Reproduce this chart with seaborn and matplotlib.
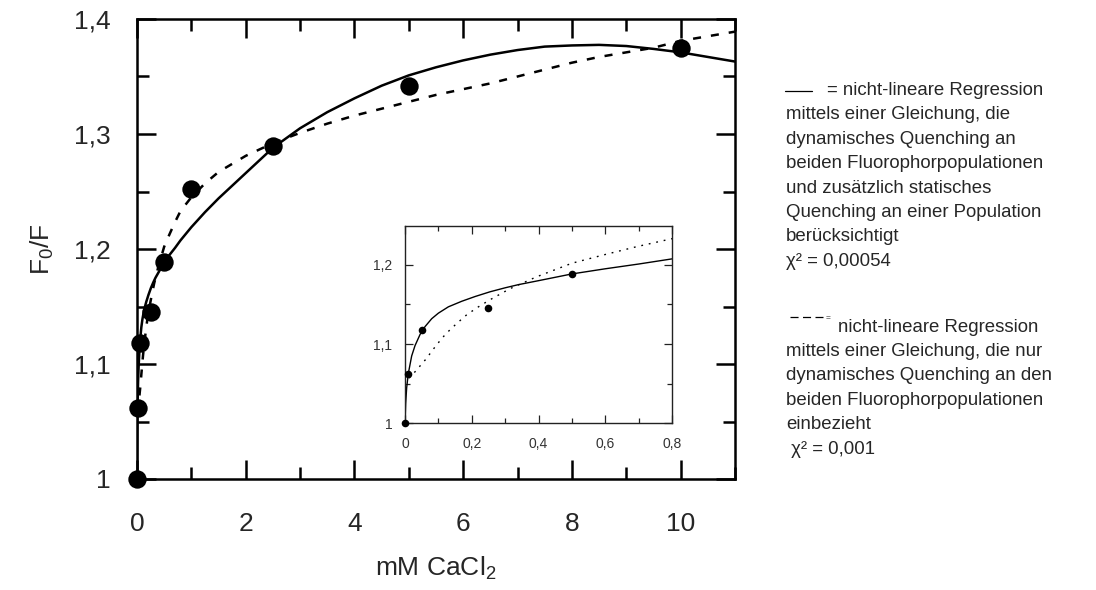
import numpy as np
import pandas as pd
import seaborn as sns
import matplotlib.pyplot as plt
from matplotlib.lines import Line2D
from matplotlib.ticker import FixedLocator, FixedFormatter, MultipleLocator

# Messpunkte (mM CaCl2, F0/F)
conc = [0, 0.01, 0.05, 0.25, 0.5, 1, 2.5, 5, 10]
f0f = [1.0, 1.062, 1.118, 1.145, 1.189, 1.252, 1.29, 1.342, 1.375]

# Kurve: dynamisch + statisch (durchgezogen)
fit1_x = [0, 0.002, 0.005, 0.01, 0.02, 0.03, 0.045, 0.06, 0.08, 0.1, 0.13, 0.17,
          0.21, 0.255, 0.3, 0.34, 0.4, 0.5, 0.6, 0.7, 0.8,
          1.0, 1.25, 1.5, 2.0, 2.5, 3.0, 3.5, 4.0, 4.5, 5.0, 5.5, 6.0, 6.5,
          7.0, 7.5, 8.0, 8.5, 9.0, 9.5, 10.0, 10.5, 11.0]
fit1_y = [1.0, 1.025, 1.045, 1.063, 1.085, 1.098, 1.112, 1.122, 1.132, 1.139, 1.147, 1.154,
          1.160, 1.166, 1.171, 1.175, 1.180, 1.1885, 1.195, 1.201, 1.2075,
          1.219, 1.232, 1.244, 1.266, 1.288, 1.305, 1.319, 1.331, 1.342, 1.351, 1.358, 1.364, 1.369,
          1.373, 1.376, 1.377, 1.3775, 1.3765, 1.374, 1.371, 1.367, 1.363]

# Kurve: nur dynamisch (gestrichelt)
fit2_x = [0.0125, 0.02, 0.035, 0.05, 0.065, 0.08, 0.095, 0.11, 0.125, 0.155, 0.185,
          0.22, 0.255, 0.315, 0.395, 0.5, 0.595, 0.695, 0.8,
          1.0, 1.25, 1.5, 2.0, 2.5, 3.0, 3.5, 4.0, 4.5, 5.0, 5.5, 6.0, 6.5,
          7.0, 7.5, 8.0, 8.5, 9.0, 9.5, 10.0, 10.5, 11.0]
fit2_y = [1.057, 1.061, 1.067, 1.075, 1.082, 1.091, 1.099, 1.107, 1.114, 1.126, 1.137,
          1.147, 1.156, 1.170, 1.185, 1.202, 1.2125, 1.223, 1.233,
          1.245, 1.257, 1.267, 1.281, 1.292, 1.301, 1.309, 1.316, 1.322, 1.328, 1.334, 1.339, 1.344,
          1.350, 1.356, 1.362, 1.367, 1.371, 1.375, 1.381, 1.385, 1.389]

xticks_main = [0, 2, 4, 6, 8, 10]
xlabels_main = ["0", "2", "4", "6", "8", "10"]
yticks_main = [1.0, 1.1, 1.2, 1.3, 1.4]
ylabels_main = ["1", "1,1", "1,2", "1,3", "1,4"]

xticks_ins = [0, 0.2, 0.4, 0.6, 0.8]
xlabels_ins = ["0", "0,2", "0,4", "0,6", "0,8"]
yticks_ins = [1.0, 1.1, 1.2]
ylabels_ins = ["1", "1,1", "1,2"]

text1 = ["mittels einer Gleichung, die",
         "dynamisches Quenching an",
         "beiden Fluorophorpopulationen",
         "und zusätzlich statisches",
         "Quenching an einer Population",
         "berücksichtigt",
         "χ² = 0,00054"]
text2 = ["mittels einer Gleichung, die nur",
         "dynamisches Quenching an den",
         "beiden Fluorophorpopulationen",
         "einbezieht",
         " χ² = 0,001"]

sns.set_style("ticks")
plt.rcParams['font.family'] = ['Liberation Sans', 'DejaVu Sans']
plt.rcParams['mathtext.default'] = 'regular'
plt.rcParams['lines.scale_dashes'] = False

W, H = 1096, 590
fig = plt.figure(figsize=(W / 100, H / 100), dpi=100)
fig.patch.set_facecolor("white")

punkte = pd.DataFrame({"x": conc, "y": f0f})
fit1 = pd.DataFrame({"x": fit1_x, "y": fit1_y})
fit2 = pd.DataFrame({"x": fit2_x, "y": fit2_y})

# Hauptdiagramm
ax = fig.add_axes([137 / W, 1 - 479 / H, 598 / W, 460 / H])
sns.lineplot(data=fit1, x="x", y="y", ax=ax, color="black", lw=1.8, sort=False,
             estimator=None)
sns.lineplot(data=fit2, x="x", y="y", ax=ax, color="black", lw=1.8, sort=False,
             estimator=None, linestyle=(0, (5.8, 7.2)))
sns.scatterplot(data=punkte, x="x", y="y", ax=ax, color="black", s=175,
                edgecolor="black", linewidth=0, zorder=5, clip_on=False)
ax.set_xlim(0, 11)
ax.set_ylim(1.0, 1.4)
ax.xaxis.set_major_locator(FixedLocator(xticks_main))
ax.xaxis.set_major_formatter(FixedFormatter(xlabels_main))
ax.xaxis.set_minor_locator(MultipleLocator(1))
ax.yaxis.set_major_locator(FixedLocator(yticks_main))
ax.yaxis.set_major_formatter(FixedFormatter(ylabels_main))
ax.yaxis.set_minor_locator(MultipleLocator(0.05))
ax.tick_params(which="both", direction="in", top=True, right=True, width=1.8,
               color="black", labelsize=19)
ax.tick_params(which="major", length=13.7)
ax.tick_params(which="minor", length=8.6)
ax.tick_params(axis="x", pad=24)
ax.tick_params(axis="y", pad=19)
for sp in ax.spines.values():
    sp.set_linewidth(1.8)
    sp.set_color("black")
ax.set_xlabel("mM CaCl$_2$", fontsize=19)
ax.set_ylabel("F$_0$/F", fontsize=19)
ax.xaxis.set_label_coords(0.5, -0.165)
ax.yaxis.set_label_coords(-0.135, 0.5)

# Ausschnitt
ins = fig.add_axes([405 / W, 1 - 423.3 / H, 267 / W, 197.3 / H])
sns.lineplot(data=fit1[fit1["x"] <= 0.8], x="x", y="y", ax=ins, color="black",
             lw=1.0, sort=False, estimator=None)
sns.lineplot(data=fit2[fit2["x"] <= 0.8], x="x", y="y", ax=ins, color="black",
             lw=1.0, sort=False, estimator=None, linestyle=(0, (1.3, 4.2)))
sns.scatterplot(data=punkte[punkte["x"] <= 0.8], x="x", y="y", ax=ins,
                color="black", s=30, linewidth=0, zorder=5, clip_on=False)
ins.set_xlim(0, 0.8)
ins.set_ylim(1.0, 1.249)
ins.xaxis.set_major_locator(FixedLocator(xticks_ins))
ins.xaxis.set_major_formatter(FixedFormatter(xlabels_ins))
ins.xaxis.set_minor_locator(MultipleLocator(0.1))
ins.yaxis.set_major_locator(FixedLocator(yticks_ins))
ins.yaxis.set_major_formatter(FixedFormatter(ylabels_ins))
ins.yaxis.set_minor_locator(MultipleLocator(0.05))
ins.tick_params(which="both", direction="in", top=True, right=True, width=0.9,
                color="#222222", labelsize=10, labelcolor="#333333")
ins.tick_params(which="major", length=5.8)
ins.tick_params(which="minor", length=3.6)
ins.tick_params(axis="x", pad=10)
ins.tick_params(axis="y", pad=9)
for sp in ins.spines.values():
    sp.set_linewidth(1.0)
    sp.set_color("#222222")
ins.set_xlabel("")
ins.set_ylabel("")

# Erläuterungstext rechts
tx = 786 / W
fs = 13.4
step = 24.4
fig.add_artist(Line2D([785 / W, 812 / W], [1 - 91 / H, 1 - 91 / H],
                      color="black", lw=0.9))
fig.text(827 / W, 1 - 95 / H, "= nicht-lineare Regression", fontsize=fs,
         va="baseline", ha="left")
for i, line in enumerate(text1):
    fig.text(tx, 1 - (95 + step * (i + 1)) / H, line, fontsize=fs,
             va="baseline", ha="left")

fig.add_artist(Line2D([790 / W, 823 / W], [1 - 316.5 / H, 1 - 316.5 / H],
                      color="black", lw=0.9, linestyle=(0, (5.8, 3.2))))
fig.text(826 / W, 1 - 320 / H, "=", fontsize=6, va="baseline", ha="left")
fig.text(838 / W, 1 - 331.5 / H, "nicht-lineare Regression", fontsize=fs,
         va="baseline", ha="left")
for i, line in enumerate(text2):
    fig.text(tx, 1 - (331.5 + step * (i + 1)) / H, line, fontsize=fs,
             va="baseline", ha="left")

fig.savefig("out.png", dpi=100, facecolor="white")
